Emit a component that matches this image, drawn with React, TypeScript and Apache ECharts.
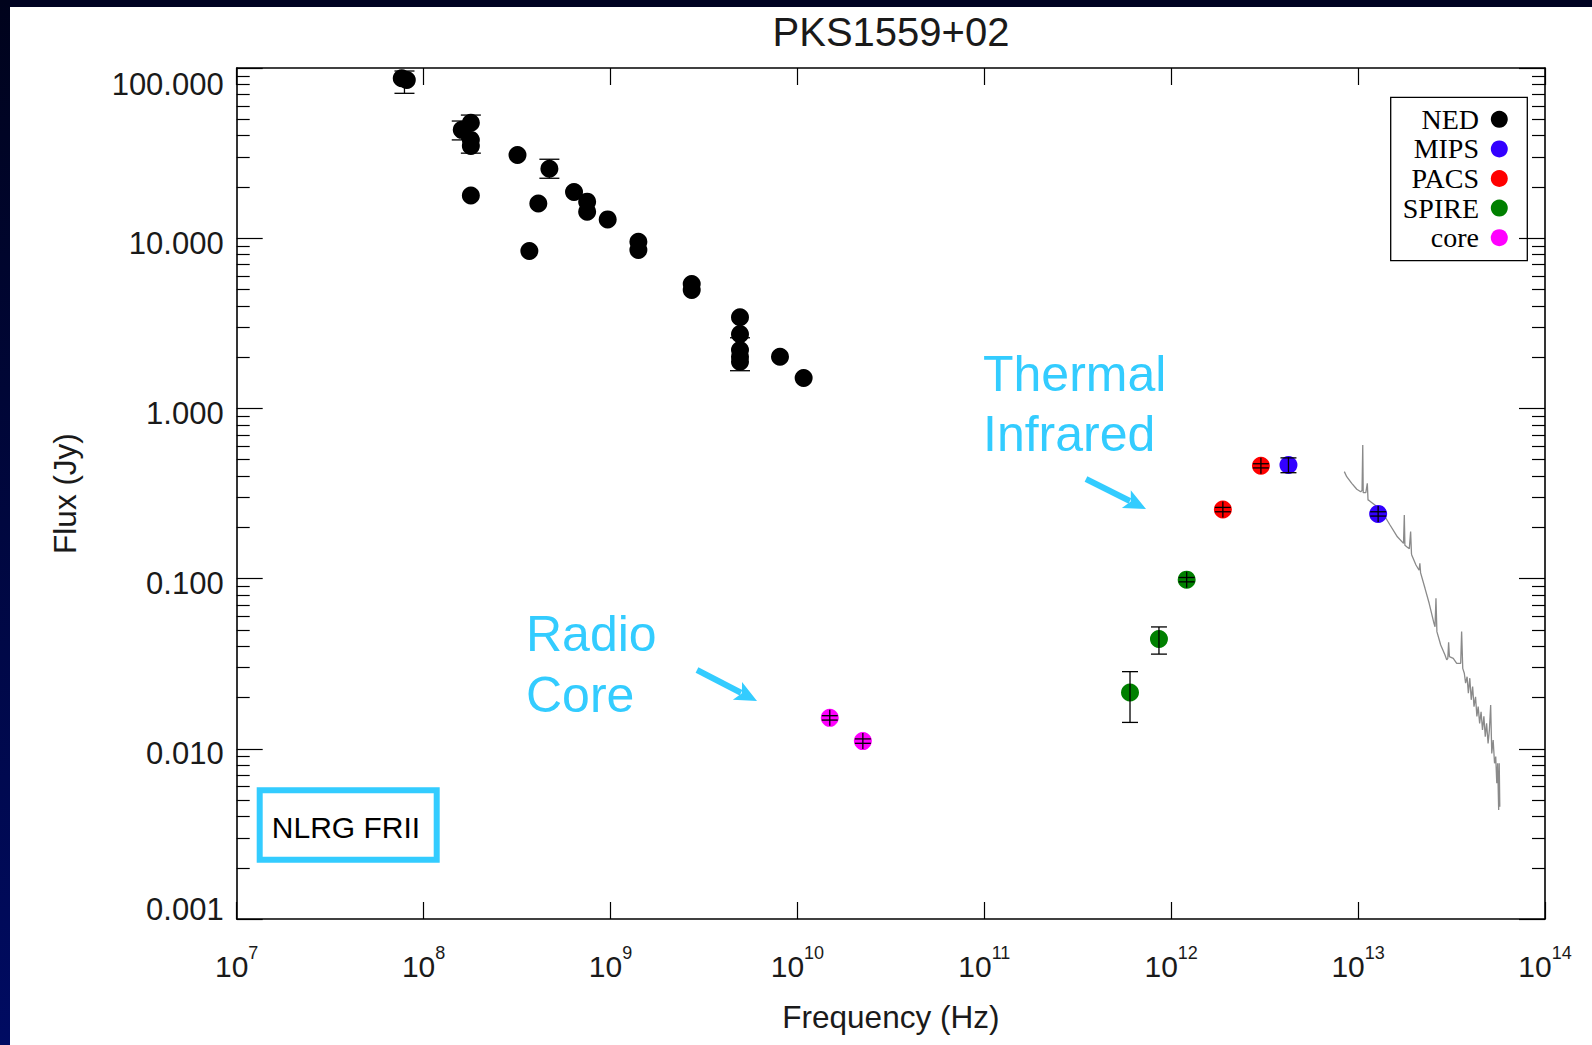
import React, { useEffect, useRef } from 'react';
import * as echarts from 'echarts';

// ---------------- data (frequency in Hz, flux in Jy) ----------------
const nedPoints: number[][] = [
  [7.64e7, 87], [8.13e7, 85],
  [1.6e8, 43.3], [1.79e8, 47.7], [1.79e8, 37.8], [1.79e8, 34.8], [1.79e8, 17.8],
  [3.18e8, 30.8], [4.71e8, 25.6], [4.11e8, 16.0], [3.68e8, 8.41],
  [6.38e8, 18.7], [7.5e8, 16.4], [7.5e8, 14.3], [9.66e8, 12.9],
  [1.41e9, 9.53], [1.41e9, 8.53], [2.72e9, 5.38], [2.72e9, 4.97],
  [4.93e9, 3.43], [4.93e9, 2.73], [4.93e9, 2.2], [4.93e9, 2.01], [4.93e9, 1.88],
  [8.07e9, 2.01], [1.08e10, 1.51],
];
const mipsPoints: number[][] = [[4.24e12, 0.465], [1.28e13, 0.24]];
const pacsPoints: number[][] = [[1.89e12, 0.2547], [3.02e12, 0.46]];
const spirePoints: number[][] = [[6.02e11, 0.0214], [8.6e11, 0.0442], [1.21e12, 0.0986]];
const corePoints: number[][] = [[1.49e10, 0.0152], [2.24e10, 0.0111]];

// [nu, flux, low, high]
const nedErrors: number[][] = [
  [7.9e7, 85, 71, 96],
  [1.6e8, 43.3, 37.8, 48.8],
  [1.79e8, 41, 31.6, 52.9],
  [4.71e8, 25.6, 22.5, 29.1],
  [4.93e9, 2.2, 1.665, 2.6],
];
const photErrors: number[][] = [
  [4.24e12, 0.465, 0.419, 0.512],
  [1.28e13, 0.24, 0.233, 0.247],
  [1.89e12, 0.2547, 0.247, 0.262],
  [3.02e12, 0.46, 0.447, 0.473],
  [6.02e11, 0.0214, 0.01429, 0.0284],
  [8.6e11, 0.0442, 0.036, 0.052],
  [1.21e12, 0.0986, 0.0957, 0.1015],
  [1.49e10, 0.0152, 0.01475, 0.01565],
  [2.24e10, 0.0111, 0.01077, 0.01143],
];

// IRS spectrum (gray trace)
const irsSpectrum: number[][] = [
  [8.44e12, 0.425], [8.69e12, 0.397], [9.25e12, 0.363], [9.84e12, 0.335],
  [1.033e13, 0.324], [1.05e13, 0.33], [1.059e13, 0.61], [1.065e13, 0.32],
  [1.1e13, 0.32], [1.12e13, 0.363], [1.13e13, 0.29], [1.148e13, 0.287],
  [1.23e13, 0.271], [1.393e13, 0.231], [1.482e13, 0.2065], [1.622e13, 0.176],
  [1.75e13, 0.161], [1.767e13, 0.2366], [1.78e13, 0.157], [1.82e13, 0.154],
  [1.88e13, 0.15], [1.91e13, 0.189], [1.93e13, 0.14], [1.936e13, 0.1377],
  [2.04e13, 0.1202], [2.12e13, 0.112], [2.14e13, 0.123], [2.16e13, 0.108],
  [2.28e13, 0.0877], [2.4e13, 0.0716], [2.547e13, 0.0546], [2.58e13, 0.0521],
  [2.61e13, 0.0766], [2.64e13, 0.0488], [2.767e13, 0.0407], [2.917e13, 0.0356],
  [2.98e13, 0.0333], [3.02e13, 0.034], [3.05e13, 0.0423], [3.08e13, 0.0348],
  [3.23e13, 0.034], [3.37e13, 0.0318], [3.54e13, 0.0318], [3.58e13, 0.0488],
  [3.63e13, 0.0297], [3.7e13, 0.0278], [3.76e13, 0.0243], [3.83e13, 0.0265],
  [3.89e13, 0.0212], [3.96e13, 0.026], [4.03e13, 0.0194], [4.1e13, 0.0232],
  [4.17e13, 0.0177], [4.25e13, 0.0202], [4.32e13, 0.0155], [4.39e13, 0.0177],
  [4.47e13, 0.0141], [4.55e13, 0.0165], [4.63e13, 0.0129], [4.71e13, 0.0155],
  [4.79e13, 0.01178], [4.87e13, 0.0141], [4.96e13, 0.01076], [5.04e13, 0.0129],
  [5.12e13, 0.0181], [5.19e13, 0.0094], [5.28e13, 0.01127], [5.37e13, 0.00822],
  [5.45e13, 0.009], [5.52e13, 0.00627], [5.58e13, 0.00822], [5.65e13, 0.00437],
  [5.69e13, 0.00822], [5.73e13, 0.00457],
];

const legendNames = ['NED', 'MIPS', 'PACS', 'SPIRE', 'core'];
const legendColors = ['#000000', '#3300FF', '#FF0000', '#008000', '#FF00FF'];

const xMin = 1e7;
const xMax = 1e14;
const yMin = 0.001;
const yMax = 100;

const SANS = 'Liberation Sans';
const SERIF = 'Liberation Serif';
const TXT = '#1a1a1a';
const CYAN = '#33CCFF';

function arrow(x1: number, y1: number, x2: number, y2: number) {
  const dx = x2 - x1, dy = y2 - y1;
  const len = Math.sqrt(dx * dx + dy * dy);
  const ux = dx / len, uy = dy / len;
  const nx = -uy, ny = ux;
  const L = 22, W = 10;
  const bx = x2 - ux * L, by = y2 - uy * L;
  return {
    type: 'group',
    children: [
      { type: 'line', shape: { x1, y1, x2: bx + ux * 4, y2: by + uy * 4 }, style: { stroke: CYAN, lineWidth: 6 } },
      {
        type: 'polygon',
        shape: { points: [[x2, y2], [bx + nx * W, by + ny * W], [bx + ux * 5, by + uy * 5], [bx - nx * W, by - ny * W]] },
        style: { fill: CYAN },
      },
    ],
  };
}

const makeErrorRender = (capHalf: number) => (params: any, api: any) => {
  const x = api.value(0), c = api.value(1), lo = api.value(2), hi = api.value(3);
  const pc = api.coord([x, c]);
  const pl = api.coord([x, lo]);
  const ph = api.coord([x, hi]);
  const top = Math.min(ph[1], pc[1] - 8);
  const bot = Math.max(pl[1], pc[1] + 8);
  const style = { stroke: '#000', lineWidth: 1.3 };
  return {
    type: 'group',
    children: [
      { type: 'line', shape: { x1: pc[0], y1: top, x2: pc[0], y2: bot }, style },
      { type: 'line', shape: { x1: pc[0] - capHalf, y1: ph[1], x2: pc[0] + capHalf, y2: ph[1] }, style },
      { type: 'line', shape: { x1: pc[0] - capHalf, y1: pl[1], x2: pc[0] + capHalf, y2: pl[1] }, style },
    ],
  };
};

export default function App() {
  const ref = useRef<HTMLDivElement>(null);
  useEffect(() => {
    if (!ref.current) return;
    const chart = echarts.init(ref.current, undefined, { renderer: 'svg' });

    const axisLine = { show: true, lineStyle: { color: '#000', width: 1.6 } };
    const xBase: any = {
      type: 'log', logBase: 10, min: xMin, max: xMax, splitNumber: 7,
      axisLine,
      axisTick: { inside: true, length: 17, lineStyle: { color: '#000', width: 1.2 } },
      minorTick: { show: false },
      splitLine: { show: false },
    };
    const yBase: any = {
      type: 'log', logBase: 10, min: yMin, max: yMax, splitNumber: 5,
      axisLine,
      axisTick: { inside: true, length: 26, lineStyle: { color: '#000', width: 1.2 } },
      minorTick: { show: true, splitNumber: 9, length: 13, lineStyle: { color: '#000', width: 1.2 } },
      splitLine: { show: false },
      minorSplitLine: { show: false },
    };

    const legendGraphics: any[] = [
      {
        type: 'rect', z: 100,
        shape: { x: 1390.7, y: 97.3, width: 136.6, height: 163.4 },
        style: { fill: 'none', stroke: '#000', lineWidth: 1.3 },
      },
    ];
    legendNames.forEach((name, i) => {
      const cy = 119.3 + i * 29.6;
      legendGraphics.push({
        type: 'text', z: 100, x: 1479, y: cy,
        style: { text: name, fontSize: 28, fontFamily: SERIF, fill: '#000', align: 'right', verticalAlign: 'middle' },
      });
      legendGraphics.push({
        type: 'circle', z: 100, shape: { cx: 1499.3, cy, r: 8.5 }, style: { fill: legendColors[i] },
      });
    });

    const scatterBase = { type: 'scatter', symbol: 'circle', symbolSize: 18, z: 3 };

    const option: any = {
      animation: false,
      backgroundColor: '#ffffff',
      textStyle: { fontFamily: SANS },
      title: {
        text: 'PKS1559+02', left: 891, top: 12, textAlign: 'center', padding: 0,
        textStyle: { fontSize: 40, fontWeight: 'normal', color: TXT, fontFamily: SANS },
      },
      grid: { left: 236.7, right: 47, top: 68, bottom: 126, containLabel: false },
      xAxis: [
        {
          ...xBase, position: 'bottom',
          name: 'Frequency (Hz)', nameLocation: 'middle', nameGap: 82,
          nameTextStyle: { fontSize: 31.5, color: TXT, fontFamily: SANS },
          axisLabel: {
            margin: 32, fontSize: 30, color: TXT,
            formatter: (v: number) => `{b|10}{s|${Math.round(Math.log10(v))}}`,
            rich: {
              b: { fontSize: 30, lineHeight: 30, verticalAlign: 'bottom', color: TXT, fontFamily: SANS },
              s: { fontSize: 18, lineHeight: 18, padding: [0, 0, 19, 0], verticalAlign: 'bottom', color: TXT, fontFamily: SANS },
            },
          },
        },
        { ...xBase, position: 'top', axisLabel: { show: false } },
      ],
      yAxis: [
        {
          ...yBase, position: 'left',
          name: 'Flux (Jy)', nameLocation: 'middle', nameGap: 156,
          nameTextStyle: { fontSize: 31.5, color: TXT, fontFamily: SANS },
          axisLabel: {
            margin: 13, fontSize: 31, color: TXT,
            formatter: (v: number) => {
              const s = v.toFixed(3);
              if (v >= yMax * 0.99) return `{mx|${s}}`;
              if (v <= yMin * 1.01) return `{mn|${s}}`;
              return `{n|${s}}`;
            },
            rich: {
              mx: { fontSize: 31, color: TXT, fontFamily: SANS, padding: [32, 0, 0, 0] },
              mn: { fontSize: 31, color: TXT, fontFamily: SANS, padding: [0, 0, 20, 0] },
              n: { fontSize: 31, color: TXT, fontFamily: SANS, padding: [10, 0, 0, 0] },
            },
          },
        },
        { ...yBase, position: 'right', axisLabel: { show: false } },
      ],
      graphic: [
        { type: 'rect', z: -10, shape: { x: 0, y: 0, width: 1592, height: 7 }, style: { fill: '#000322' } },
        {
          type: 'rect', z: -10, shape: { x: 0, y: 0, width: 10, height: 1045 },
          style: {
            fill: new echarts.graphic.LinearGradient(0, 0, 0, 1, [
              { offset: 0, color: '#00031c' },
              { offset: 1, color: '#000b62' },
            ]),
          },
        },
        { type: 'text', x: 983, y: 374, style: { text: 'Thermal', fontSize: 50, fontFamily: SANS, fill: CYAN, align: 'left', verticalAlign: 'middle' } },
        { type: 'text', x: 983, y: 434, style: { text: 'Infrared', fontSize: 50, fontFamily: SANS, fill: CYAN, align: 'left', verticalAlign: 'middle' } },
        arrow(1086, 479, 1146, 509),
        { type: 'text', x: 526, y: 634, style: { text: 'Radio', fontSize: 50, fontFamily: SANS, fill: CYAN, align: 'left', verticalAlign: 'middle' } },
        { type: 'text', x: 526, y: 695, style: { text: 'Core', fontSize: 50, fontFamily: SANS, fill: CYAN, align: 'left', verticalAlign: 'middle' } },
        arrow(697, 670, 757, 701),
        {
          type: 'rect', shape: { x: 259.7, y: 790.3, width: 177, height: 69.4 },
          style: { fill: 'none', stroke: CYAN, lineWidth: 6 },
        },
        { type: 'text', x: 346, y: 827, style: { text: 'NLRG FRII', fontSize: 30, fontFamily: SANS, fill: '#000', align: 'center', verticalAlign: 'middle' } },
        ...legendGraphics,
      ],
      series: [
        {
          name: 'IRS', type: 'line', data: irsSpectrum, showSymbol: false, symbol: 'none',
          lineStyle: { color: '#8a8a8a', width: 1.3 }, z: 2, silent: true,
        },
        { ...scatterBase, name: 'NED', data: nedPoints, itemStyle: { color: legendColors[0], opacity: 1 } },
        { ...scatterBase, name: 'MIPS', data: mipsPoints, itemStyle: { color: legendColors[1], opacity: 1 } },
        { ...scatterBase, name: 'PACS', data: pacsPoints, itemStyle: { color: legendColors[2], opacity: 1 } },
        { ...scatterBase, name: 'SPIRE', data: spirePoints, itemStyle: { color: legendColors[3], opacity: 1 } },
        { ...scatterBase, name: 'core', data: corePoints, itemStyle: { color: legendColors[4], opacity: 1 } },
        {
          name: 'NED err', type: 'custom', data: nedErrors, renderItem: makeErrorRender(10),
          encode: { x: 0, y: [1, 2, 3] }, z: 4, silent: true,
        },
        {
          name: 'phot err', type: 'custom', data: photErrors, renderItem: makeErrorRender(8),
          encode: { x: 0, y: [1, 2, 3] }, z: 4, silent: true,
        },
      ],
    };
    chart.setOption(option);
    return () => chart.dispose();
  }, []);

  return (
    <div
      ref={ref}
      style={{ position: 'fixed', left: 0, top: 0, width: 1592, height: 1045, background: '#fff' }}
    />
  );
}
